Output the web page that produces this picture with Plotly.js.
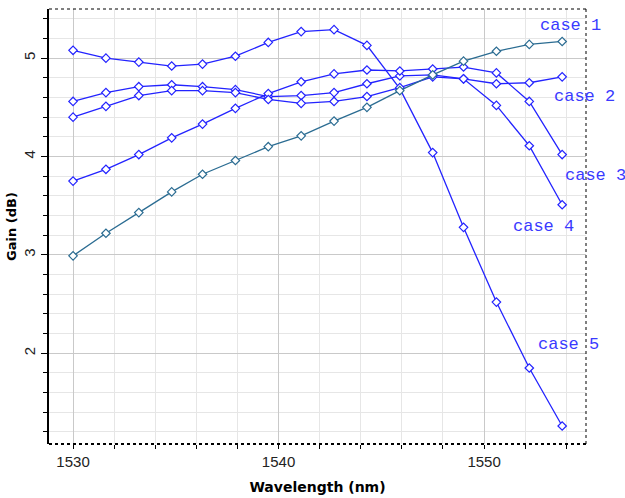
<!DOCTYPE html>
<html>
<head>
<meta charset="utf-8">
<script src="https://cdn.plot.ly/plotly-3.0.1.min.js"></script>
<style>
  html, body { margin: 0; padding: 0; background: #ffffff; }
  #chart { width: 625px; height: 498px; }
</style>
</head>
<body>
<div id="chart"></div>
<script>
// Wavelength (nm)
const wavelength = [1530.0, 1531.6, 1533.2, 1534.8, 1536.3, 1537.9, 1539.5, 1541.1,
                    1542.7, 1544.3, 1545.9, 1547.5, 1549.0, 1550.6, 1552.2, 1553.8];

// Gain (dB) per case
const case1 = [2.99, 3.22, 3.43, 3.64, 3.82, 3.96, 4.10, 4.21, 4.36, 4.50, 4.67, 4.83, 4.97, 5.07, 5.14, 5.17];
const case2 = [4.40, 4.51, 4.62, 4.67, 4.67, 4.65, 4.58, 4.54, 4.56, 4.61, 4.70, 4.81, 4.79, 4.74, 4.75, 4.81];
const case3 = [3.75, 3.87, 4.02, 4.19, 4.33, 4.49, 4.64, 4.76, 4.84, 4.88, 4.87, 4.89, 4.91, 4.85, 4.56, 4.02];
const case4 = [4.56, 4.65, 4.71, 4.73, 4.71, 4.68, 4.61, 4.62, 4.65, 4.74, 4.82, 4.83, 4.79, 4.52, 4.11, 3.51];
const case5 = [5.08, 5.00, 4.96, 4.92, 4.94, 5.02, 5.16, 5.27, 5.29, 5.13, 4.69, 4.04, 3.28, 2.52, 1.85, 1.26];

const caseLabels = ["case 1", "case 2", "case 3", "case 4", "case 5"];
// label anchor positions (data units)
const labelX = [1552.6, 1553.3, 1553.85, 1551.3, 1552.55];
const labelY = [5.33, 4.61, 3.81, 3.29, 2.09];

const BLUE = "#2323ff";
const TEAL = "#2b6c92";
const LABEL = "#3a3aff";

function mk(y, color, name) {
  return {
    x: wavelength, y: y, name: name, type: "scatter", mode: "lines+markers",
    line: { color: color, width: 1.3 },
    marker: { symbol: "diamond", size: 6.5, color: "#ffffff", line: { color: color, width: 1.2 } },
    cliponaxis: false, showlegend: false
  };
}

const data = [
  mk(case5, BLUE, caseLabels[4]),
  mk(case4, BLUE, caseLabels[3]),
  mk(case3, BLUE, caseLabels[2]),
  mk(case2, BLUE, caseLabels[1]),
  mk(case1, TEAL, caseLabels[0])
];

const annotations = caseLabels.map((t, i) => ({
  x: labelX[i], y: labelY[i], xref: "x", yref: "y", text: t, showarrow: false,
  xanchor: "left", yanchor: "middle",
  font: { family: "Liberation Mono, DejaVu Sans Mono, monospace", size: 17, color: LABEL }
}));

const dotted = { color: "#000000", width: 1, dash: "dot" };
const shapes = [
  { type: "line", xref: "paper", yref: "paper", x0: 0, x1: 1, y0: 1, y1: 1, line: dotted, layer: "above" },
  { type: "line", xref: "paper", yref: "paper", x0: 1, x1: 1, y0: 0, y1: 1, line: dotted, layer: "above" },
  { type: "line", xref: "paper", yref: "paper", x0: 0, x1: 1, y0: 0, y1: 0, line: { color: "#000000", width: 2, dash: "dot" }, layer: "above" }
];

const layout = {
  width: 625, height: 498,
  margin: { l: 49, r: 39, t: 9, b: 54 },
  paper_bgcolor: "#ffffff", plot_bgcolor: "#ffffff",
  showlegend: false,
  xaxis: {
    range: [1528.83, 1554.96],
    tick0: 1530, dtick: 10,
    showgrid: true, gridcolor: "#c9c9c9", gridwidth: 1,
    zeroline: false, showline: false,
    ticks: "outside", ticklen: 4, tickcolor: "#000000",
    tickfont: { family: "Liberation Sans, Arial, sans-serif", size: 15, color: "#222222" },
    minor: { dtick: 2, tick0: 1530, showgrid: true, gridcolor: "#e6e6e6", ticks: "outside", ticklen: 4, tickcolor: "#000000" },
    title: { text: "Wavelength (nm)", standoff: 13,
             font: { family: "DejaVu Sans, Verdana, sans-serif", size: 14, color: "#000000", weight: "bold" } },
    automargin: false
  },
  yaxis: {
    range: [1.077, 5.5],
    tick0: 0, dtick: 1,
    showgrid: true, gridcolor: "#c9c9c9", gridwidth: 1,
    zeroline: false, showline: true, linecolor: "#000000", linewidth: 2,
    ticks: "outside", ticklen: 6, tickcolor: "#000000", tickwidth: 1,
    tickangle: -90,
    tickfont: { family: "Liberation Sans, Arial, sans-serif", size: 15, color: "#222222" },
    minor: { dtick: 0.2, tick0: 0, showgrid: true, gridcolor: "#e6e6e6", ticks: "outside", ticklen: 4, tickcolor: "#000000" },
    title: { text: "Gain (dB)", standoff: 1,
             font: { family: "DejaVu Sans, Verdana, sans-serif", size: 13, color: "#000000", weight: "bold" } },
    automargin: false
  },
  annotations: annotations,
  shapes: shapes
};

Plotly.newPlot("chart", data, layout, { displayModeBar: false, staticPlot: true });
</script>
</body>
</html>
